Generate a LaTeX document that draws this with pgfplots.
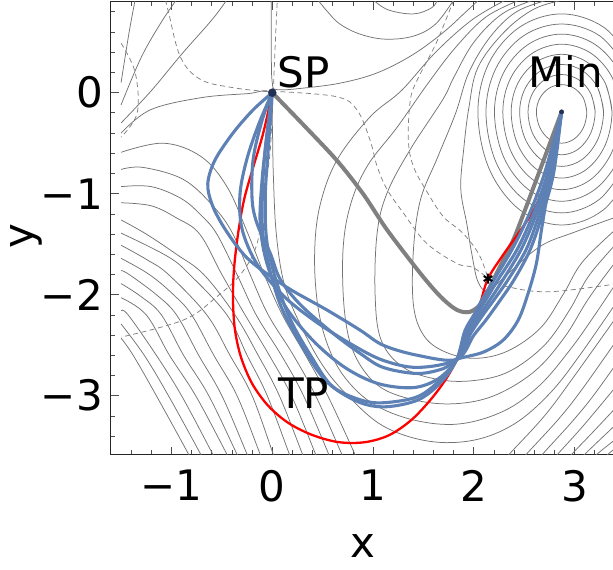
\documentclass[border=0pt]{standalone}
\usepackage{fontspec}
\setmainfont{DejaVu Sans}
\usepackage{pgfplots}
\pgfplotsset{compat=1.18}
\usetikzlibrary{calc}
\definecolor{mblue}{rgb}{0.368,0.507,0.710}
\definecolor{spdot}{rgb}{0.13,0.19,0.33}
\newcommand{\lbl}{\fontsize{42}{46}\selectfont}
\begin{document}
\begin{tikzpicture}
\begin{axis}[
  scale only axis, width=502.5pt, height=453pt,
  xmin=-1.605, xmax=3.38, ymin=-3.587, ymax=0.898,
  axis y line*=left,
  axis line style={black!85, line width=1pt},
  tick align=inside,
  major tick length=8pt, minor tick length=4.5pt,
  tick style={black!70, line width=0.8pt},
  xtick={-1,0,1,2,3}, xticklabels={−1,0,1,2,3},
  ytick={-3,-2,-1,0}, yticklabels={−3,−2,−1,0},
  minor xtick={-1.4,-1.2,-0.8,-0.6,-0.4,-0.2,0.2,0.4,0.6,0.8,1.2,1.4,1.6,1.8,2.2,2.4,2.6,2.8,3.2},
  minor ytick={0.8,0.6,0.4,0.2,-0.2,-0.4,-0.6,-0.8,-1.2,-1.4,-1.6,-1.8,-2.2,-2.4,-2.6,-2.8,-3.2,-3.4},
  xticklabel style={font=\lbl, inner sep=0pt, anchor=north, yshift=-15pt},
  yticklabel style={font=\lbl, inner sep=0pt, anchor=east, xshift=-7.5pt},
  cont/.style={draw=black!55, line width=0.75pt, smooth, tension=0.6, no markers, forget plot},
  dcont/.style={cont, draw=black!50, dash pattern=on 5pt off 3.5pt},
  bl/.style={draw=mblue, line width=3.1pt, smooth, tension=0.55, no markers, forget plot},
]
% ---- rings around Min
\addplot[cont] coordinates {(3.12,-0.19) (3.087,-0.055) (2.995,0.044) (2.87,0.08) (2.745,0.044) (2.654,-0.055) (2.62,-0.19) (2.654,-0.345) (2.745,-0.458) (2.87,-0.50) (2.995,-0.458) (3.087,-0.345) (3.12,-0.19) (3.087,-0.055)};
\addplot[cont] coordinates {(3.203,-0.19) (3.158,-0.005) (3.037,0.13) (2.87,0.18) (2.704,0.13) (2.582,-0.005) (2.537,-0.19) (2.582,-0.4025) (2.704,-0.558) (2.87,-0.615) (3.037,-0.558) (3.158,-0.4025) (3.203,-0.19) (3.158,-0.005)};
\addplot[cont] coordinates {(3.286,-0.19) (3.23,0.045) (3.078,0.217) (2.87,0.28) (2.662,0.217) (2.51,0.045) (2.454,-0.19) (2.51,-0.46) (2.662,-0.658) (2.87,-0.73) (3.078,-0.658) (3.23,-0.46) (3.286,-0.19) (3.23,0.045)};
\addplot[cont] coordinates {(3.37,-0.19) (3.303,0.095) (3.12,0.304) (2.87,0.38) (2.62,0.304) (2.437,0.095) (2.37,-0.19) (2.437,-0.518) (2.62,-0.757) (2.87,-0.845) (3.12,-0.757) (3.303,-0.518) (3.37,-0.19) (3.303,0.095)};
\addplot[cont] coordinates {(3.453,-0.19) (3.375,0.145) (3.162,0.39) (2.87,0.48) (2.579,0.39) (2.365,0.145) (2.287,-0.19) (2.365,-0.575) (2.579,-0.857) (2.87,-0.96) (3.162,-0.857) (3.375,-0.575) (3.453,-0.19) (3.375,0.145)};
\addplot[cont] coordinates {(3.536,-0.19) (3.447,0.195) (3.203,0.477) (2.87,0.58) (2.537,0.477) (2.293,0.195) (2.204,-0.19) (2.293,-0.6325) (2.537,-0.956) (2.87,-1.075) (3.203,-0.956) (3.447,-0.6325) (3.536,-0.19) (3.447,0.195)};
\addplot[cont] coordinates {(3.52,0.245) (3.245,0.565) (2.87,0.68) (2.495,0.565) (2.22,0.245) (2.12,-0.19) (2.22,-0.69) (2.495,-1.056) (2.87,-1.19) (3.245,-1.056) (3.52,-0.69)};
\addplot[cont] coordinates {(3.59,0.295) (3.285,0.65) (2.87,0.78) (2.455,0.65) (2.15,0.295) (2.04,-0.19) (2.15,-0.75) (2.455,-1.16) (2.87,-1.31) (3.285,-1.16) (3.59,-0.75)};
% ---- basin contours
\addplot[cont] coordinates {(2.9,0.92) (2.6,0.83) (2.3,0.6) (2.04,0.25) (1.95,-0.15) (1.9,-0.55) (1.87,-0.95) (1.93,-1.3) (1.98,-1.6) (2.04,-1.87) (2.14,-1.96) (2.33,-1.8) (2.66,-1.52) (3.0,-1.38) (3.5,-1.2)};
\addplot[cont] coordinates {(2.74,0.92) (2.42,0.8) (2.16,0.55) (1.95,0.2) (1.82,-0.2) (1.64,-0.64) (1.47,-1.06) (1.40,-1.56) (1.40,-2.1) (1.5,-2.4) (1.7,-2.56) (2.0,-2.63) (2.33,-2.56) (2.66,-2.33) (2.89,-1.99) (3.09,-1.66) (3.5,-1.27)};
\addplot[cont] coordinates {(2.6,0.92) (2.28,0.78) (2.0,0.5) (1.8,0.15) (1.69,-0.07) (1.37,-0.56) (1.14,-0.99) (1.04,-1.39) (1.02,-2.0) (1.08,-2.45) (1.3,-2.72) (1.65,-2.84) (2.0,-2.85) (2.35,-2.76) (2.7,-2.5) (2.95,-2.15) (3.15,-1.8) (3.5,-1.4)};
\addplot[cont] coordinates {(2.46,0.92) (2.12,0.75) (1.82,0.45) (1.55,0.1) (1.24,-0.34) (0.94,-0.73) (0.77,-1.13) (0.70,-1.59) (0.72,-2.2) (0.82,-2.6) (1.05,-2.9) (1.4,-3.04) (1.8,-3.08) (2.2,-3.0) (2.6,-2.76) (2.9,-2.42) (3.15,-2.02) (3.5,-1.55)};
\addplot[cont] coordinates {(2.32,0.92) (1.98,0.72) (1.62,0.4) (1.28,0.02) (0.97,-0.24) (0.64,-0.67) (0.47,-1.13) (0.42,-1.6) (0.45,-2.1) (0.55,-2.5) (0.72,-2.82) (1.0,-3.08) (1.4,-3.24) (1.85,-3.28) (2.3,-3.15) (2.65,-2.9) (2.95,-2.55) (3.2,-2.2) (3.5,-1.75)};
% ---- contour through SP and its neighbours
\addplot[cont] coordinates {(-1.5,-0.40) (-1.21,-0.17) (-0.71,-0.05) (-0.25,-0.01) (-0.02,0.0) (0.0,-0.3) (0.01,-0.8) (0.04,-1.4) (0.12,-1.9) (0.28,-2.3) (0.5,-2.7) (0.75,-3.0) (1.1,-3.3) (1.55,-3.45) (2.0,-3.44) (2.4,-3.28) (2.75,-2.98) (3.05,-2.6) (3.5,-1.95)};
\addplot[cont] coordinates {(-0.01,0.92) (-0.01,0.4) (0.0,0.1) (0.05,0.03) (0.35,0.05) (0.7,0.1) (1.05,0.2) (1.4,0.38) (1.7,0.6) (1.92,0.8) (2.05,0.92)};
\addplot[cont] coordinates {(0.45,0.92) (0.55,0.8) (0.67,0.68) (0.87,0.58) (1.12,0.53) (1.4,0.56) (1.62,0.68) (1.8,0.92)};
\addplot[cont] coordinates {(1.0,0.92) (1.15,0.82) (1.4,0.78) (1.58,0.84) (1.64,0.92)};
\addplot[cont] coordinates {(-0.45,0.92) (-0.6,0.72) (-0.9,0.38) (-1.2,0.02) (-1.5,-0.3)};
\addplot[cont] coordinates {(-0.95,0.92) (-1.1,0.7) (-1.3,0.35) (-1.5,-0.12)};
\addplot[cont] coordinates {(-1.36,0.92) (-1.42,0.6) (-1.5,0.1)};
% ---- lower left family
\addplot[cont] coordinates {(-1.5,-0.59) (-1.08,-0.5) (-0.71,-0.63) (-0.45,-0.93) (-0.24,-1.4) (-0.08,-1.8) (0.10,-2.2) (0.33,-2.6) (0.55,-3.0) (0.82,-3.58) (0.87,-3.7)};
\addplot[cont] coordinates {(-1.5,-0.76) (-1.28,-0.74) (-0.88,-0.86) (-0.58,-1.13) (-0.39,-1.4) (-0.22,-1.8) (-0.04,-2.2) (0.21,-2.6) (0.43,-3.0) (0.69,-3.58) (0.74,-3.7)};
\addplot[cont] coordinates {(-1.5,-0.93) (-1.2,-0.93) (-0.9,-1.05) (-0.7,-1.22) (-0.55,-1.4) (-0.35,-1.8) (-0.16,-2.2) (0.09,-2.6) (0.31,-3.0) (0.56,-3.58) (0.61,-3.7)};
\addplot[cont] coordinates {(-1.5,-1.09) (-1.2,-1.12) (-0.95,-1.24) (-0.72,-1.4) (-0.5,-1.8) (-0.27,-2.2) (-0.03,-2.6) (0.19,-3.0) (0.43,-3.58) (0.48,-3.7)};
\addplot[cont] coordinates {(-1.5,-1.26) (-1.25,-1.4) (-0.95,-1.6) (-0.68,-1.8) (-0.37,-2.2) (-0.14,-2.6) (0.07,-3.0) (0.30,-3.58) (0.35,-3.7)};
\addplot[cont] coordinates {(-1.5,-1.39) (-1.04,-1.62) (-0.82,-1.8) (-0.45,-2.2) (-0.25,-2.6) (-0.05,-3.0) (0.17,-3.58) (0.22,-3.7)};
\addplot[cont] coordinates {(-1.5,-1.51) (-1.25,-1.65) (-1.03,-1.8) (-0.65,-2.2) (-0.42,-2.6) (-0.2,-3.0) (0.01,-3.58) (0.06,-3.7)};
\addplot[cont] coordinates {(-1.5,-1.64) (-1.22,-1.8) (-0.98,-2.0) (-0.8,-2.2) (-0.58,-2.6) (-0.35,-3.0) (-0.12,-3.58) (-0.07,-3.7)};
\addplot[cont] coordinates {(-1.5,-1.76) (-1.42,-1.8) (-1.15,-2.0) (-0.95,-2.2) (-0.73,-2.6) (-0.5,-3.0) (-0.25,-3.58) (-0.2,-3.7)};
\addplot[cont] coordinates {(-1.5,-1.89) (-1.3,-2.02) (-1.1,-2.2) (-0.88,-2.6) (-0.63,-3.0) (-0.35,-3.58) (-0.29,-3.7)};
\addplot[cont] coordinates {(-1.5,-2.03) (-1.25,-2.2) (-1.02,-2.6) (-0.76,-3.0) (-0.45,-3.58) (-0.39,-3.7)};
\addplot[cont] coordinates {(-1.5,-2.16) (-1.43,-2.2) (-1.15,-2.6) (-0.9,-3.0) (-0.59,-3.58) (-0.53,-3.7)};
\addplot[cont] coordinates {(-1.5,-2.29) (-1.27,-2.6) (-1.03,-3.0) (-0.71,-3.58) (-0.65,-3.7)};
\addplot[cont] coordinates {(-1.5,-2.43) (-1.38,-2.6) (-1.15,-3.0) (-0.83,-3.58) (-0.77,-3.7)};
% ---- lower right arms
\addplot[cont] coordinates {(2.25,-3.7) (2.35,-3.58) (2.7,-3.2) (3.0,-2.8) (3.5,-2.1)};
\addplot[cont] coordinates {(2.42,-3.7) (2.52,-3.58) (2.85,-3.22) (3.1,-2.9) (3.5,-2.33)};
\addplot[cont] coordinates {(2.58,-3.7) (2.68,-3.58) (2.98,-3.25) (3.2,-2.98) (3.5,-2.56)};
\addplot[cont] coordinates {(2.73,-3.7) (2.83,-3.58) (3.1,-3.28) (3.5,-2.8)};
\addplot[cont] coordinates {(2.87,-3.7) (2.97,-3.58) (3.2,-3.34) (3.5,-3.02)};
\addplot[cont] coordinates {(3.0,-3.7) (3.1,-3.58) (3.5,-3.2)};
\addplot[cont] coordinates {(3.12,-3.7) (3.22,-3.58) (3.5,-3.36)};
\addplot[cont] coordinates {(3.23,-3.7) (3.33,-3.58) (3.5,-3.45)};
% ---- dashed lines
\addplot[dcont] coordinates {(-1.06,0.92) (-1.03,0.8) (-0.91,0.35) (-0.71,0.13) (-0.39,0.05) (-0.05,0.01)};
\addplot[dcont] coordinates {(-1.5,0.49) (-1.36,0.2) (-1.34,-0.2) (-1.5,-0.44)};
\addplot[dcont] coordinates {(0.08,0.01) (0.64,-0.04) (0.84,-0.17) (0.97,-0.47) (1.04,-0.73) (1.14,-0.96) (1.30,-1.19) (1.53,-1.49) (1.83,-1.69) (1.99,-1.73) (2.14,-1.84)};
\addplot[dcont] coordinates {(1.80,0.92) (1.63,0.5) (1.44,0.13) (1.37,-0.07) (1.35,-0.47) (1.40,-0.73) (1.54,-0.99) (1.70,-1.23) (1.89,-1.39) (2.05,-1.6) (2.14,-1.84)};
\addplot[dcont] coordinates {(0.0,-0.02) (-0.02,-0.57) (-0.09,-1.06) (-0.15,-1.49) (-0.3,-1.78) (-0.55,-2.02) (-0.88,-2.25) (-1.5,-2.42)};
\addplot[dcont] coordinates {(0.01,0.0) (0.03,0.5) (0.05,0.92)};
\addplot[dcont] coordinates {(2.14,-1.84) (2.33,-1.92) (2.76,-1.97) (3.5,-1.88)};
% ---- gray path
\addplot[draw=black!50, line width=4pt, smooth, tension=0.5, no markers, forget plot] coordinates {(0,0) (0.32,-0.33) (0.64,-0.67) (0.9,-1.0) (1.14,-1.36) (1.47,-1.79) (1.67,-2.02) (1.83,-2.15) (1.96,-2.17) (2.08,-2.08) (2.18,-1.88) (2.29,-1.66) (2.39,-1.46) (2.5,-1.18) (2.62,-0.86) (2.74,-0.54) (2.87,-0.19)};
% ---- red path
\addplot[draw=red, line width=2.3pt, smooth, tension=0.55, no markers, forget plot] coordinates {(0,0) (-0.09,-0.40) (-0.19,-0.74) (-0.28,-1.06) (-0.34,-1.4) (-0.38,-1.75) (-0.39,-2.05) (-0.37,-2.35) (-0.31,-2.62) (-0.2,-2.88) (-0.04,-3.1) (0.16,-3.27) (0.4,-3.39) (0.66,-3.46) (0.92,-3.46) (1.16,-3.39) (1.38,-3.24) (1.57,-3.04) (1.72,-2.84) (1.83,-2.65) (1.93,-2.47) (2.0,-2.28) (2.07,-2.06) (2.14,-1.84) (2.28,-1.62) (2.45,-1.38) (2.6,-1.15) (2.72,-0.85) (2.8,-0.55) (2.87,-0.19)};
% ---- blue paths
\addplot[bl] coordinates {(0,0) (-0.19,-0.17) (-0.39,-0.4) (-0.57,-0.67) (-0.64,-0.9) (-0.6,-1.1) (-0.5,-1.3) (-0.35,-1.52) (-0.19,-1.69) (0.15,-1.93) (0.54,-2.15) (0.87,-2.35) (1.10,-2.5) (1.44,-2.6) (1.83,-2.64) (2.0,-2.4) (2.12,-2.25) (2.25,-2.07) (2.4,-1.85) (2.56,-1.55) (2.68,-1.2) (2.79,-0.8) (2.87,-0.19)};
\addplot[bl] coordinates {(0,0) (-0.13,-0.3) (-0.25,-0.65) (-0.32,-1.0) (-0.3,-1.35) (-0.15,-1.7) (0.12,-2.02) (0.45,-2.28) (0.8,-2.5) (1.1,-2.65) (1.44,-2.72) (1.83,-2.64) (1.97,-2.38) (2.09,-2.2) (2.2,-2.05) (2.34,-1.85) (2.52,-1.55) (2.65,-1.2) (2.77,-0.8) (2.87,-0.19)};
\addplot[bl] coordinates {(0,0) (-0.10,-0.27) (-0.19,-0.66) (-0.2,-1.06) (-0.15,-1.3) (-0.02,-1.59) (0.08,-1.85) (0.28,-2.1) (0.6,-2.38) (0.87,-2.58) (1.1,-2.72) (1.44,-2.78) (1.7,-2.73) (1.83,-2.64) (2.09,-2.57) (2.29,-2.45) (2.44,-2.25) (2.54,-1.98) (2.62,-1.69) (2.67,-1.36) (2.73,-1.0) (2.8,-0.62) (2.87,-0.19)};
\addplot[bl] coordinates {(0,0) (-0.05,-0.4) (-0.1,-0.85) (-0.12,-1.3) (-0.05,-1.7) (0.12,-2.1) (0.4,-2.45) (0.72,-2.72) (1.05,-2.88) (1.4,-2.92) (1.65,-2.83) (1.83,-2.64) (1.95,-2.37) (2.06,-2.2) (2.16,-2.05) (2.29,-1.85) (2.47,-1.55) (2.62,-1.2) (2.75,-0.8) (2.87,-0.19)};
\addplot[bl] coordinates {(0,0) (-0.04,-0.56) (-0.07,-1.06) (-0.04,-1.56) (0.15,-2.18) (0.41,-2.65) (0.60,-2.91) (0.87,-3.04) (1.10,-3.07) (1.44,-3.01) (1.67,-2.84) (1.83,-2.64) (1.93,-2.37) (2.03,-2.2) (2.12,-2.05) (2.24,-1.85) (2.43,-1.55) (2.59,-1.2) (2.73,-0.8) (2.87,-0.19)};
\addplot[bl] coordinates {(0,0) (-0.07,-0.56) (-0.1,-1.06) (-0.08,-1.5) (0.08,-2.1) (0.35,-2.6) (0.56,-2.88) (0.85,-3.06) (1.12,-3.11) (1.45,-3.04) (1.68,-2.86) (1.83,-2.64) (1.91,-2.36) (2.0,-2.2) (2.08,-2.05) (2.2,-1.85) (2.38,-1.55) (2.55,-1.2) (2.7,-0.8) (2.87,-0.19)};
% ---- markers
\addplot[only marks, mark=*, mark size=4pt, color=spdot, forget plot] coordinates {(0,0)};
\addplot[only marks, mark=*, mark size=2.2pt, color=spdot, forget plot] coordinates {(2.87,-0.19)};
\addplot[only marks, mark=asterisk, mark size=5pt, line width=2pt, color=black, forget plot] coordinates {(2.14,-1.84)};
% ---- labels
\node[font=\lbl, anchor=base west, inner sep=0pt] at (axis cs:0.049,0.056) {SP};
\node[font=\lbl, anchor=base west, inner sep=0pt] at (axis cs:2.537,0.056) {Min};
\node[font=\lbl, anchor=base west, inner sep=0pt] at (axis cs:0.057,-3.122) {TP};
\coordinate (bl) at (rel axis cs:0,0);
\coordinate (tr) at (rel axis cs:1,1);
\end{axis}
\node[font=\lbl] at ($(bl)+(252pt,-91pt)$) {x};
\node[font=\lbl, rotate=90] at ($(bl)+(-84.5pt,219pt)$) {y};
\pgfresetboundingbox
\path[use as bounding box] ($(bl)+(-110.5pt,-115pt)$) rectangle ($(tr)+(0pt,2pt)$);
\end{tikzpicture}
\end{document}
